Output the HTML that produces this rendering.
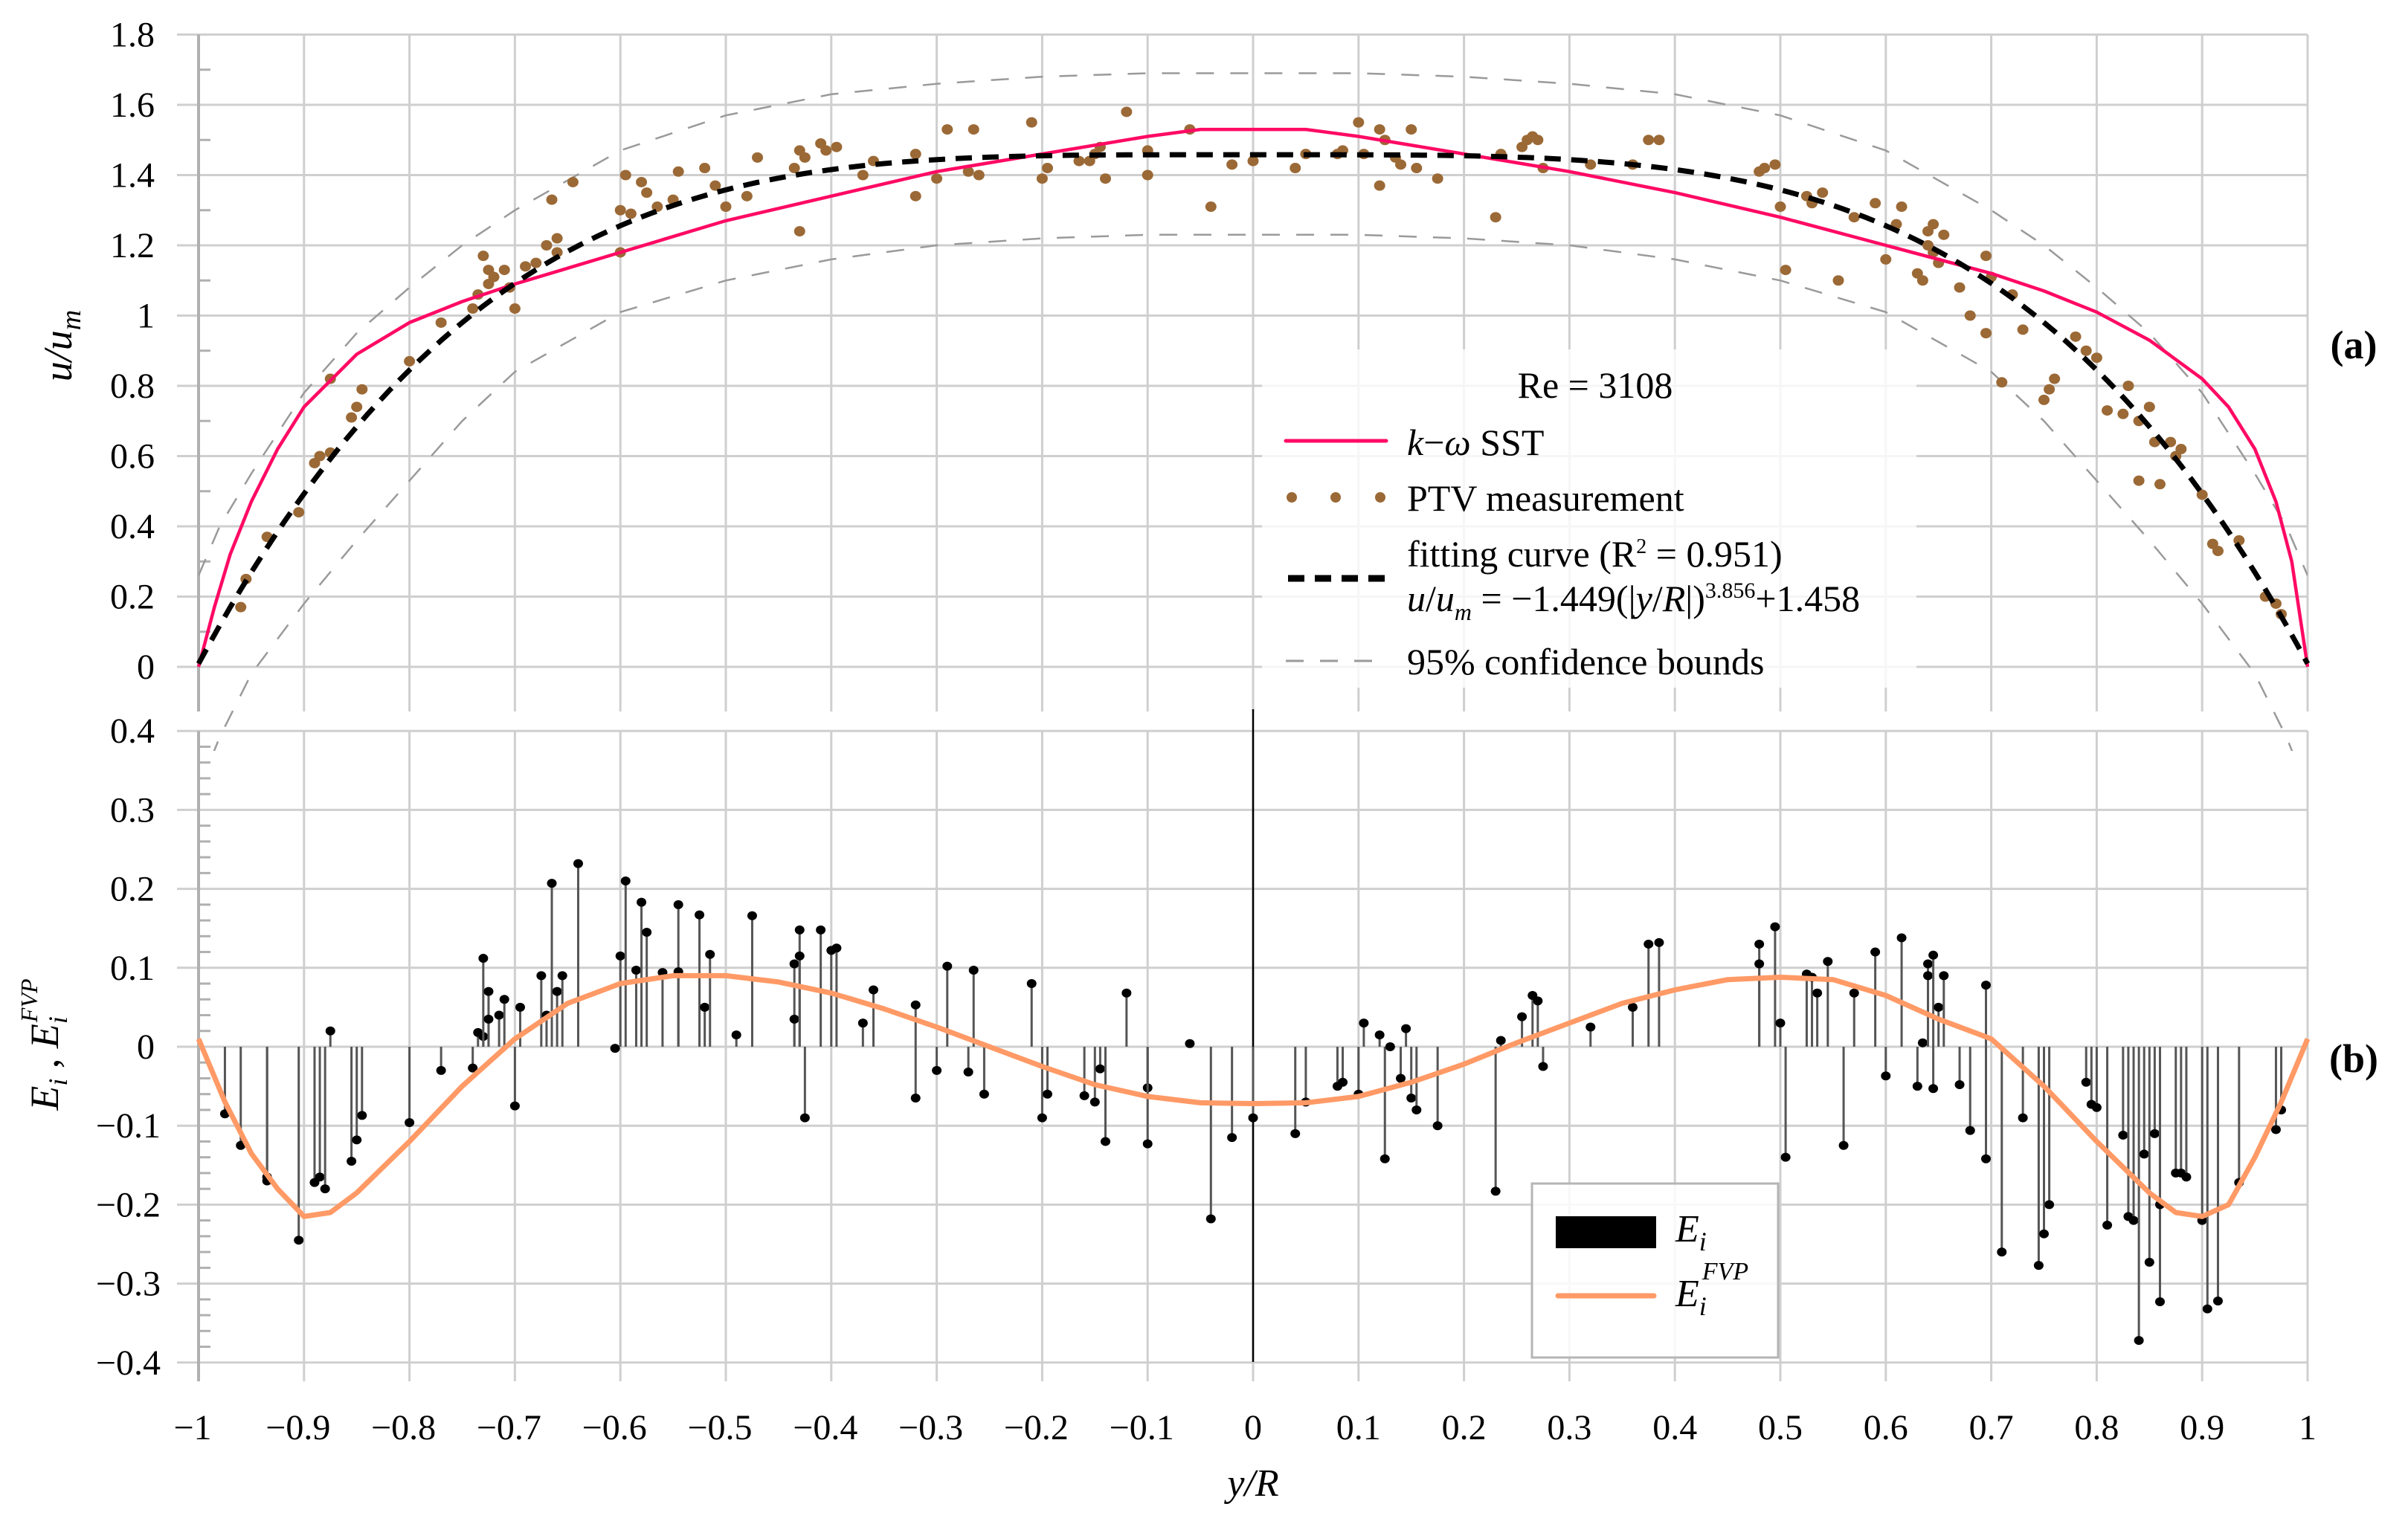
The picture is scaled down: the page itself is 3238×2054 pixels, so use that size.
<!DOCTYPE html>
<html><head><meta charset="utf-8"><style>
html,body{margin:0;padding:0;background:#fff;}
svg, svg text{font-family:"Liberation Serif","Times New Roman","DejaVu Serif",serif;}
</style></head><body>
<svg id="chart" width="3238" height="2054" viewBox="0 0 3238 2054" xmlns="http://www.w3.org/2000/svg" font-family="Liberation Serif, Times New Roman, serif" style="position:absolute;left:0;top:0">
<g id="grid"></g>
<g id="marks"></g>
<g id="labels"></g>
</svg>
<script>
// ---------- data ----------
const xTicks = [-1,-0.9,-0.8,-0.7,-0.6,-0.5,-0.4,-0.3,-0.2,-0.1,0,0.1,0.2,0.3,0.4,0.5,0.6,0.7,0.8,0.9,1];
const xTickLabels = ["\u22121","\u22120.9","\u22120.8","\u22120.7","\u22120.6","\u22120.5","\u22120.4","\u22120.3","\u22120.2","\u22120.1","0","0.1","0.2","0.3","0.4","0.5","0.6","0.7","0.8","0.9","1"];
const yTopTicks = [0,0.2,0.4,0.6,0.8,1,1.2,1.4,1.6,1.8];
const yTopLabels = ["0","0.2","0.4","0.6","0.8","1","1.2","1.4","1.6","1.8"];
const yBotTicks = [-0.4,-0.3,-0.2,-0.1,0,0.1,0.2,0.3,0.4];
const yBotLabels = ["\u22120.4","\u22120.3","\u22120.2","\u22120.1","0","0.1","0.2","0.3","0.4"];

const sstX = [-1,-0.985,-0.97,-0.95,-0.925,-0.9,-0.85,-0.8,-0.75,-0.7,-0.6,-0.5,-0.4,-0.3,-0.2,-0.1,-0.05,0.05,0.1,0.2,0.3,0.4,0.5,0.6,0.7,0.75,0.8,0.85,0.9,0.925,0.95,0.97,0.985,1];
const sstY = [0,0.17,0.32,0.47,0.62,0.74,0.89,0.98,1.04,1.09,1.18,1.27,1.34,1.41,1.46,1.51,1.53,1.53,1.51,1.46,1.41,1.35,1.28,1.2,1.12,1.07,1.01,0.93,0.82,0.74,0.62,0.47,0.3,0];

const fitParams = [1.449, 3.856, 1.458];

const bndX = [-1,-0.98,-0.95,-0.9,-0.85,-0.8,-0.75,-0.7,-0.6,-0.5,-0.4,-0.3,-0.2,-0.1,0,0.1,0.2,0.3,0.4,0.5,0.6,0.7,0.75,0.8,0.85,0.9,0.95,0.98,1];
const upperY = [0.26,0.4,0.55,0.78,0.95,1.08,1.2,1.3,1.47,1.57,1.63,1.66,1.68,1.69,1.69,1.69,1.68,1.66,1.63,1.57,1.47,1.3,1.2,1.08,0.95,0.78,0.55,0.4,0.26];
const lowerY = [-0.35,-0.2,-0.02,0.18,0.36,0.53,0.7,0.84,1.01,1.1,1.16,1.2,1.22,1.23,1.23,1.23,1.22,1.2,1.16,1.1,1.01,0.84,0.7,0.53,0.36,0.18,-0.02,-0.2,-0.35];

const ptvX = [-0.96,-0.955,-0.935,-0.905,-0.89,-0.885,-0.875,-0.875,-0.855,-0.85,-0.845,-0.8,-0.77,-0.74,-0.735,-0.73,-0.725,-0.725,-0.72,-0.71,-0.7,-0.705,-0.69,-0.68,-0.67,-0.665,-0.66,-0.66,-0.645,-0.6,-0.6,-0.595,-0.59,-0.58,-0.575,-0.565,-0.55,-0.545,-0.52,-0.51,-0.5,-0.48,-0.47,-0.435,-0.43,-0.43,-0.425,-0.41,-0.405,-0.395,-0.37,-0.36,-0.32,-0.32,-0.3,-0.29,-0.27,-0.265,-0.26,-0.21,-0.2,-0.195,-0.165,-0.155,-0.15,-0.145,-0.14,-0.12,-0.1,-0.1,-0.06,-0.04,-0.02,0,0.04,0.05,0.08,0.085,0.1,0.105,0.12,0.12,0.125,0.135,0.14,0.15,0.155,0.175,0.23,0.235,0.255,0.26,0.265,0.27,0.275,0.32,0.36,0.375,0.385,0.48,0.485,0.495,0.5,0.505,0.525,0.53,0.54,0.555,0.57,0.59,0.6,0.61,0.615,0.63,0.635,0.64,0.64,0.645,0.645,0.65,0.655,0.67,0.68,0.695,0.695,0.7,0.71,0.72,0.73,0.75,0.755,0.76,0.78,0.79,0.8,0.81,0.825,0.83,0.84,0.84,0.85,0.855,0.86,0.87,0.875,0.88,0.9,0.91,0.915,0.935,0.96,0.97,0.975];
const ptvY = [0.17,0.25,0.37,0.44,0.58,0.6,0.61,0.82,0.71,0.74,0.79,0.87,0.98,1.02,1.06,1.17,1.09,1.13,1.11,1.13,1.02,1.08,1.14,1.15,1.2,1.33,1.22,1.18,1.38,1.18,1.3,1.4,1.29,1.38,1.35,1.31,1.33,1.41,1.42,1.37,1.31,1.34,1.45,1.42,1.24,1.47,1.45,1.49,1.47,1.48,1.4,1.44,1.34,1.46,1.39,1.53,1.41,1.53,1.4,1.55,1.39,1.42,1.44,1.44,1.46,1.48,1.39,1.58,1.47,1.4,1.53,1.31,1.43,1.44,1.42,1.46,1.46,1.47,1.55,1.46,1.53,1.37,1.5,1.45,1.43,1.53,1.42,1.39,1.28,1.46,1.48,1.5,1.51,1.5,1.42,1.43,1.43,1.5,1.5,1.41,1.42,1.43,1.31,1.13,1.34,1.32,1.35,1.1,1.28,1.32,1.16,1.26,1.31,1.12,1.1,1.2,1.24,1.26,1.18,1.15,1.23,1.08,1.0,0.95,1.17,1.11,0.81,1.06,0.96,0.76,0.79,0.82,0.94,0.9,0.88,0.73,0.72,0.8,0.7,0.53,0.74,0.64,0.52,0.64,0.6,0.62,0.49,0.35,0.33,0.36,0.2,0.18,0.15];

const errX = [-0.975,-0.96,-0.935,-0.935,-0.905,-0.89,-0.885,-0.88,-0.875,-0.855,-0.85,-0.845,-0.8,-0.77,-0.74,-0.735,-0.73,-0.73,-0.725,-0.725,-0.715,-0.71,-0.7,-0.695,-0.675,-0.67,-0.665,-0.66,-0.655,-0.64,-0.605,-0.6,-0.595,-0.585,-0.58,-0.575,-0.56,-0.545,-0.545,-0.525,-0.52,-0.515,-0.49,-0.475,-0.435,-0.435,-0.43,-0.43,-0.425,-0.41,-0.4,-0.395,-0.37,-0.36,-0.32,-0.32,-0.3,-0.29,-0.27,-0.265,-0.255,-0.21,-0.2,-0.195,-0.16,-0.15,-0.145,-0.14,-0.12,-0.1,-0.1,-0.06,-0.04,-0.02,0,0.04,0.05,0.08,0.085,0.1,0.105,0.12,0.125,0.13,0.14,0.145,0.15,0.155,0.175,0.23,0.235,0.255,0.265,0.27,0.275,0.32,0.36,0.375,0.385,0.48,0.48,0.495,0.5,0.505,0.525,0.53,0.535,0.545,0.56,0.57,0.59,0.6,0.615,0.63,0.635,0.64,0.64,0.645,0.645,0.65,0.655,0.67,0.68,0.695,0.695,0.71,0.73,0.745,0.75,0.755,0.79,0.795,0.8,0.81,0.825,0.83,0.835,0.84,0.845,0.85,0.855,0.86,0.86,0.875,0.88,0.885,0.9,0.905,0.915,0.935,0.97,0.975];
const errY = [-0.085,-0.125,-0.165,-0.17,-0.245,-0.172,-0.165,-0.18,0.02,-0.145,-0.118,-0.087,-0.096,-0.03,-0.027,0.018,0.013,0.112,0.07,0.035,0.04,0.06,-0.075,0.05,0.09,0.04,0.207,0.07,0.09,0.232,-0.002,0.115,0.21,0.097,0.183,0.145,0.094,0.18,0.095,0.167,0.05,0.117,0.015,0.166,0.105,0.035,0.148,0.115,-0.09,0.148,0.122,0.125,0.03,0.072,0.053,-0.065,-0.03,0.102,-0.032,0.097,-0.06,0.08,-0.09,-0.06,-0.062,-0.07,-0.028,-0.12,0.068,-0.052,-0.123,0.004,-0.218,-0.115,-0.09,-0.11,-0.07,-0.05,-0.045,-0.06,0.03,0.015,-0.142,0.0,-0.04,0.023,-0.065,-0.08,-0.1,-0.183,0.008,0.038,0.065,0.058,-0.025,0.025,0.05,0.13,0.132,0.13,0.105,0.152,0.03,-0.14,0.092,0.088,0.068,0.108,-0.125,0.068,0.12,-0.037,0.138,-0.05,0.005,0.105,0.09,0.116,-0.053,0.05,0.09,-0.048,-0.106,0.078,-0.142,-0.26,-0.09,-0.277,-0.237,-0.2,-0.045,-0.073,-0.077,-0.226,-0.112,-0.215,-0.22,-0.372,-0.136,-0.273,-0.11,-0.323,-0.2,-0.16,-0.16,-0.165,-0.22,-0.332,-0.322,-0.172,-0.105,-0.08];

const fvpX = [-1,-0.975,-0.95,-0.925,-0.9,-0.875,-0.85,-0.8,-0.75,-0.7,-0.65,-0.6,-0.55,-0.5,-0.45,-0.4,-0.35,-0.3,-0.25,-0.2,-0.15,-0.1,-0.05,0,0.05,0.1,0.15,0.2,0.25,0.3,0.35,0.4,0.45,0.5,0.55,0.6,0.65,0.7,0.75,0.8,0.85,0.875,0.9,0.925,0.95,0.975,1];
const fvpY = [0.01,-0.07,-0.135,-0.18,-0.215,-0.21,-0.185,-0.12,-0.05,0.01,0.055,0.08,0.09,0.09,0.082,0.068,0.048,0.025,0.0,-0.025,-0.048,-0.063,-0.071,-0.072,-0.071,-0.063,-0.045,-0.022,0.005,0.03,0.055,0.072,0.085,0.088,0.085,0.065,0.035,0.01,-0.05,-0.12,-0.185,-0.21,-0.215,-0.2,-0.14,-0.07,0.01];

// ---------- axes ----------
const X0 = 1685, XS = 1418;
const sx = v => X0 + v*XS;
const syT = v => 897 - v*472.5;
const syB = v => 1408 - v*1062;
const NS = "http://www.w3.org/2000/svg";
const FF = "Liberation Serif, Times New Roman, DejaVu Serif, serif";
function mk(tag, attrs, parent){ const e=document.createElementNS(NS,tag); for(const k in attrs) e.setAttribute(k,attrs[k]); parent.appendChild(e); return e; }
const grid=document.getElementById('grid'), marks=document.getElementById('marks'), labels=document.getElementById('labels');

yTopTicks.forEach(v=>{ const l=mk('line',{x1:238,x2:sx(1),y1:syT(v),y2:syT(v),stroke:'#cfcfcf','stroke-width':3},grid);
  });
xTicks.forEach(v=>{ const l=mk('line',{x1:sx(v),x2:sx(v),y1:syT(1.8),y2:957,stroke:v===-1?'#b0b0b0':'#cfcfcf','stroke-width':v===-1?4:3},grid);
  });
for(let v=0.1; v<1.8; v+=0.2){ const l=mk('line',{x1:sx(-1),x2:sx(-1)+16,y1:syT(v),y2:syT(v),stroke:'#b0b0b0','stroke-width':3},grid);
  }
yBotTicks.forEach(v=>{ const l=mk('line',{x1:238,x2:sx(1),y1:syB(v),y2:syB(v),stroke:'#cfcfcf','stroke-width':3},grid);
  });
xTicks.forEach(v=>{ const l=mk('line',{x1:sx(v),x2:sx(v),y1:syB(0.4),y2:1858,stroke:v===-1?'#b0b0b0':'#cfcfcf','stroke-width':v===-1?4:3},grid);
  });
for(let i=-20;i<20;i++){ if(i%5===0) continue; const v=i*0.02; const l=mk('line',{x1:sx(-1),x2:sx(-1)+16,y1:syB(v),y2:syB(v),stroke:'#b0b0b0','stroke-width':3},grid);
  }

const lbg=mk('rect',{x:1697,y:470,width:880,height:455,fill:'#fff','fill-opacity':0.8},grid);
 

function pathFrom(xs, ys, sy){ return xs.map((x,i)=>(i?'L':'M')+sx(x).toFixed(1)+','+sy(ys[i]).toFixed(1)).join(' '); }

const clipT = mk('clipPath',{id:'clipTop'},document.getElementById('chart'));
mk('rect',{x:sx(-1),y:0,width:XS*2,height:1010},clipT);
const up=mk('path',{d:pathFrom(bndX,upperY,syT),fill:'none',stroke:'#9a9a9a','stroke-width':2.5,'stroke-dasharray':'24 22','clip-path':'url(#clipTop)'},marks);
 
const lo=mk('path',{d:pathFrom(bndX,lowerY,syT),fill:'none',stroke:'#9a9a9a','stroke-width':2.5,'stroke-dasharray':'24 22','clip-path':'url(#clipTop)'},marks);
 

ptvX.forEach((x,i)=>{ const c=mk('ellipse',{cx:sx(x),cy:syT(ptvY[i]),rx:7.5,ry:7,fill:'#9b6936'},marks);
  });

const sst=mk('path',{d:pathFrom(sstX,sstY,syT),fill:'none',stroke:'#ff0a64','stroke-width':4.5,'stroke-linejoin':'round'},marks);
 

const fx=[], fy=[];
for(let i=0;i<=200;i++){ const x=-1+i*0.01; fx.push(x); fy.push(fitParams[2]-fitParams[0]*Math.pow(Math.abs(x),fitParams[1])); }
const fit=mk('path',{d:pathFrom(fx,fy,syT),fill:'none',stroke:'#000','stroke-width':7,'stroke-dasharray':'22 14','stroke-linecap':'butt'},marks);
 

const zl=mk('line',{x1:sx(0),x2:sx(0),y1:954,y2:1832,stroke:'#000','stroke-width':2.5},marks);
 

errX.forEach((x,i)=>{ const l=mk('line',{x1:sx(x),x2:sx(x),y1:syB(0),y2:syB(errY[i]),stroke:'#555','stroke-width':3},marks);
 
const c=mk('ellipse',{cx:sx(x),cy:syB(errY[i]),rx:6.5,ry:6,fill:'#000'},marks);
  });

const fvp=mk('path',{d:pathFrom(fvpX,fvpY,syB),fill:'none',stroke:'#ff9a66','stroke-width':7,'stroke-linejoin':'round'},marks);
 

yTopTicks.forEach((v,i)=>{ const t=mk('text',{x:208,y:syT(v)+16,'text-anchor':'end','font-size':48,'font-family':FF},labels); t.textContent=yTopLabels[i];
  });
yBotTicks.forEach((v,i)=>{ const t=mk('text',{x:v<0?216:208,y:syB(v)+16,'text-anchor':'end','font-size':48,'font-family':FF},labels); t.textContent=yBotLabels[i];
  });
xTicks.forEach((v,i)=>{ const t=mk('text',{x:sx(v)-(v<0?8:0),y:1936,'text-anchor':'middle','font-size':48,'font-family':FF},labels); t.textContent=xTickLabels[i];
  });
</script>
<svg width="3238" height="2054" style="position:absolute;left:0;top:0" font-family="Liberation Serif, Times New Roman, serif">
  <text x="1685" y="2012" text-anchor="middle" font-size="52" font-style="italic">y/R</text>
  <g transform="translate(96,465) rotate(-90)"><text x="0" y="0" text-anchor="middle" font-size="54" font-style="italic">u/u<tspan font-size="38" dy="12">m</tspan></text></g>
  <g transform="translate(78,1405) rotate(-90)"><text x="0" y="0" text-anchor="middle" font-size="54" font-style="italic">E<tspan font-size="36" dy="12">i</tspan><tspan dy="-12" font-style="normal"> , </tspan>E<tspan font-size="36" dy="12">i</tspan><tspan font-size="32" dx="-8" dy="-40">FVP</tspan></text></g>
  <text x="3165" y="482" text-anchor="middle" font-size="54" font-weight="bold">(a)</text>
  <text x="3165" y="1442" text-anchor="middle" font-size="54" font-weight="bold">(b)</text>
  <g font-size="50">
    <text x="2145" y="535" text-anchor="middle">Re = 3108</text>
    <line x1="1729" x2="1864" y1="593" y2="593" stroke="#ff0a64" stroke-width="5" stroke-linecap="round"/>
    <text x="1892" y="612"><tspan font-style="italic">k</tspan>−<tspan font-style="italic">ω</tspan> SST</text>
    <circle cx="1737" cy="669" r="7" fill="#9b6936"/><circle cx="1796" cy="669" r="7" fill="#9b6936"/><circle cx="1856" cy="669" r="7" fill="#9b6936"/>
    <text x="1892" y="687">PTV measurement</text>
    <line x1="1732" x2="1862" y1="778" y2="778" stroke="#000" stroke-width="9" stroke-dasharray="22 14"/>
    <text x="1892" y="762">fitting curve (R<tspan font-size="28" dy="-18">2</tspan><tspan dy="18"> = 0.951)</tspan></text>
    <text x="1892" y="822"><tspan font-style="italic">u</tspan>/<tspan font-style="italic">u</tspan><tspan font-style="italic" font-size="32" dy="12">m</tspan><tspan dy="-12"> = −1.449(|</tspan><tspan font-style="italic">y</tspan>/<tspan font-style="italic">R</tspan>|)<tspan font-size="30" dy="-18">3.856</tspan><tspan dy="18">+1.458</tspan></text>
    <line x1="1729" x2="1864" y1="889" y2="889" stroke="#9a9a9a" stroke-width="3" stroke-dasharray="24 22"/>
    <text x="1892" y="907">95% confidence bounds</text>
  </g>
  <g>
    <rect x="2060" y="1592" width="331" height="234" fill="#fff" fill-opacity="0.85" stroke="#b5b5b5" stroke-width="3"/>
    <rect x="2092" y="1636" width="135" height="43" fill="#000"/>
    <text x="2253" y="1670" font-size="52" font-style="italic">E<tspan font-size="36" dy="12">i</tspan></text>
    <line x1="2095" x2="2224" y1="1743" y2="1743" stroke="#ff9a66" stroke-width="7" stroke-linecap="round"/>
    <text x="2253" y="1757" font-size="52" font-style="italic">E<tspan font-size="36" dy="12">i</tspan><tspan font-size="34" dx="-6" dy="-48">FVP</tspan></text>
  </g>
</svg>
</body></html>
